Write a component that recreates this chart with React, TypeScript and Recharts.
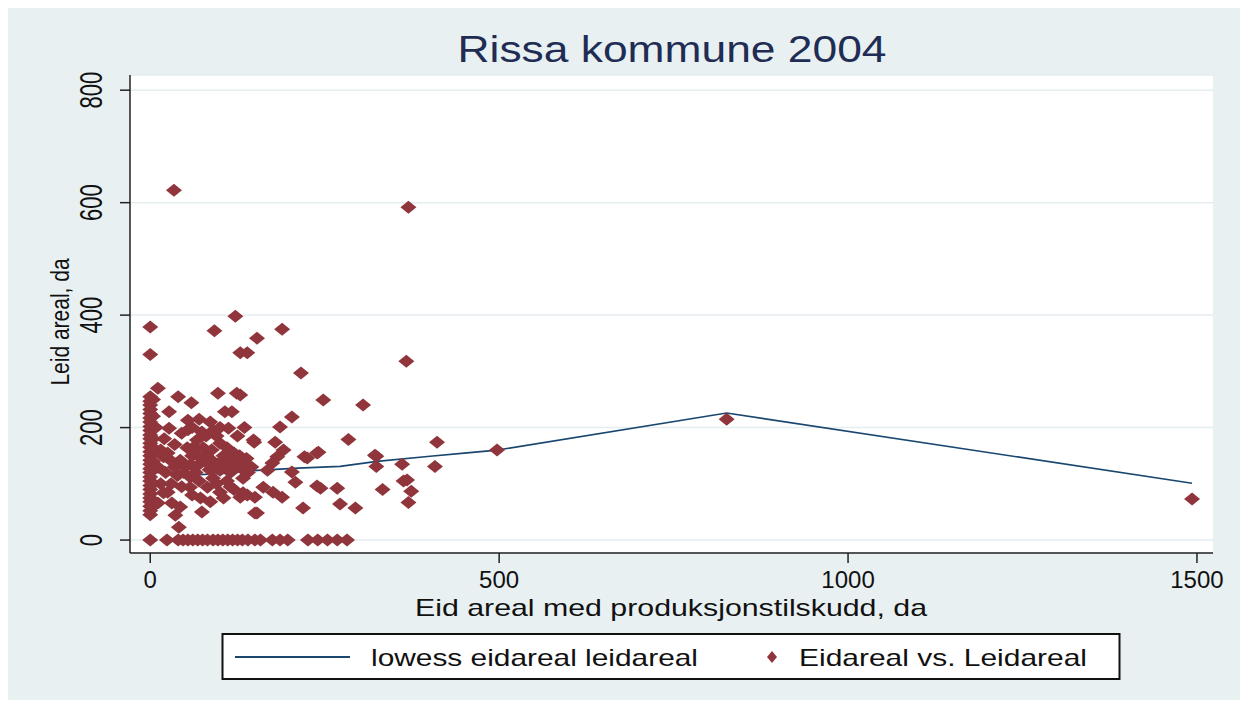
import React from "react";
import { CartesianGrid, Scatter, ScatterChart, XAxis, YAxis } from "recharts";

// farms with no owned land (eid areal = 0), leid areal values stacked on the y axis
const zeroEidLeid = [
  0, 45, 52, 60, 68, 75, 82, 90, 97, 105, 112, 120, 127, 135, 142, 150, 157, 165, 172, 180, 187, 195, 202,
  210, 217, 225, 232, 240, 247, 255, 330, 379,
];

// farms with no rented land (leid areal = 0), eid areal values along the x axis
const zeroLeidEid = [
  24, 40, 47, 54, 61, 68, 75, 82, 90, 97, 104, 111, 118, 125, 132, 140, 150, 158, 175, 186, 197, 226, 240, 254,
  268, 282,
];

// everything else, [eid areal, leid areal]
const otherPoints: [number, number][] = [
  [34, 622], [370, 592], [122, 398], [92, 372], [189, 375], [153, 359], [129, 333], [139, 333], [216, 297],
  [367, 318], [248, 249], [305, 240], [411, 174], [497, 160], [284, 179], [324, 149], [324, 131], [361, 135],
  [333, 90], [363, 105], [368, 107], [374, 87], [370, 67], [294, 57], [408, 131], [826, 215], [1493, 73],
  [129, 258], [203, 219], [186, 201], [149, 174], [179, 174], [191, 160], [239, 155], [225, 146], [182, 148],
  [175, 137], [133, 140], [133, 125], [133, 110], [168, 124], [203, 121], [208, 103], [162, 94], [176, 85],
  [189, 76], [244, 92], [239, 96], [268, 92], [129, 76], [150, 76], [153, 48], [219, 57], [272, 64],
  [241, 156], [221, 148], [322, 151],
  [11, 270], [40, 255], [59, 244], [27, 228], [27, 199], [97, 261], [124, 261], [107, 228], [117, 228],
  [54, 213], [54, 196], [86, 210], [74, 192], [67, 178], [53, 164], [43, 142], [29, 142], [76, 164],
  [100, 172], [112, 199], [110, 164], [113, 142], [124, 130], [148, 178], [100, 124], [90, 110], [82, 94],
  [57, 112], [57, 94], [39, 115], [72, 75], [86, 68], [31, 66], [43, 59], [74, 50], [36, 44], [41, 23],
  [139, 80], [133, 84], [150, 48], [19, 148], [11, 130], [19, 84], [11, 66],
  [20, 180], [35, 170], [45, 190], [60, 150], [70, 135], [80, 150], [90, 140], [95, 185], [105, 150],
  [120, 155], [65, 120], [85, 125], [110, 105], [120, 90], [100, 85], [30, 100], [45, 95], [22, 120],
  [50, 130], [140, 120], [115, 120], [95, 100], [70, 105],
  [15, 160], [25, 155], [35, 130], [48, 120], [58, 135], [62, 165], [68, 150], [78, 140], [88, 160],
  [92, 130], [102, 140], [108, 130], [118, 140], [128, 150], [138, 145], [145, 130], [60, 200], [80, 185],
  [90, 195], [70, 215], [100, 200], [125, 185], [135, 200], [15, 100], [25, 85], [60, 80], [105, 75], [115, 95],
  [4, 60], [4, 100], [4, 140], [4, 180], [4, 220], [4, 250], [8, 65], [8, 130], [8, 160], [8, 200],
];

// lowess smooth
const lowessEid = [0, 29, 62, 100, 153, 212, 272, 325, 401, 454, 497, 826, 1493];
const lowessLeid = [121, 119, 116, 118, 124, 128, 131, 140, 149, 155, 160, 226, 101];

const xTicks = [0, 500, 1000, 1500];
const yTicks = [0, 200, 400, 600, 800];

const scatterData = [
  ...zeroEidLeid.map((y) => ({ x: 0, y })),
  ...zeroLeidEid.map((x) => ({ x, y: 0 })),
  ...otherPoints.map(([x, y]) => ({ x, y })),
];
const lowessData = lowessEid.map((x, i) => ({ x, y: lowessLeid[i] }));

const MAROON = "#90353b";
const NAVY = "#1a476f";
const FONT = "'Liberation Sans', Arial, sans-serif";

function Diamond(props: any) {
  const { cx, cy } = props;
  if (cx == null || cy == null) return <g />;
  return <polygon points={`${cx},${cy - 6.5} ${cx + 8},${cy} ${cx},${cy + 6.5} ${cx - 8},${cy}`} fill={MAROON} />;
}

function XTick(props: any) {
  const { x, y, payload } = props;
  return (
    <text x={x} y={y + 25} textAnchor="middle" fontSize={24} fill="#111" fontFamily={FONT}>
      {payload.value}
    </text>
  );
}

function YTick(props: any) {
  const { x, y, payload } = props;
  return (
    <text
      transform={`translate(${x - 28},${y}) rotate(-90) scale(1,1.4)`}
      textAnchor="middle"
      dominantBaseline="central"
      fontSize={22}
      fill="#111"
      fontFamily={FONT}
    >
      {payload.value}
    </text>
  );
}

export default function App() {
  return (
    <div style={{ marginTop: -3, width: 1232, height: 695, background: "#e8f0f2", position: "relative" }}>
      <ScatterChart width={1232} height={695} margin={{ top: 70, right: 27, bottom: 107, left: 62 }}>
        <CartesianGrid vertical={false} fill="#ffffff" stroke="#e4edf0" strokeWidth={1.5} />
        <XAxis
          type="number"
          dataKey="x"
          domain={[-29, 1523]}
          ticks={xTicks}
          allowDataOverflow
          height={40}
          tickSize={10}
          tickMargin={0}
          tick={<XTick />}
          axisLine={{ stroke: "#222", strokeWidth: 1.5 }}
          tickLine={{ stroke: "#222", strokeWidth: 1.5 }}
        />
        <YAxis
          type="number"
          dataKey="y"
          domain={[-23, 827]}
          ticks={yTicks}
          allowDataOverflow
          width={60}
          tickSize={10}
          tickMargin={0}
          tick={<YTick />}
          axisLine={{ stroke: "#222", strokeWidth: 1.5 }}
          tickLine={{ stroke: "#222", strokeWidth: 1.5 }}
        />
        <Scatter
          data={lowessData}
          line={{ stroke: NAVY, strokeWidth: 1.6 }}
          lineType="joint"
          shape={() => <g />}
          isAnimationActive={false}
        />
        <Scatter data={scatterData} shape={<Diamond />} isAnimationActive={false} />
      </ScatterChart>

      <svg
        width={1232}
        height={695}
        style={{ position: "absolute", left: 0, top: 0, pointerEvents: "none" }}
        fontFamily={FONT}
      >
        <text x={664} y={57} textAnchor="middle" fontSize={37} fill="#1f2d55" textLength={429} lengthAdjust="spacingAndGlyphs">
          Rissa kommune 2004
        </text>
        <text x={663} y={611} textAnchor="middle" fontSize={24} fill="#111" textLength={512} lengthAdjust="spacingAndGlyphs">
          Eid areal med produksjonstilskudd, da
        </text>
        <text
          transform="translate(52,317) rotate(-90) scale(1,1.2)"
          textAnchor="middle"
          dominantBaseline="central"
          fontSize={21}
          fill="#111"
        >
          Leid areal, da
        </text>

        <rect x={214.5} y={629} width={897} height={45} fill="#ffffff" stroke="#111" strokeWidth={2} />
        <line x1={227} y1={652} x2={342} y2={652} stroke={NAVY} strokeWidth={2} />
        <text x={363} y={661} fontSize={24} fill="#111" textLength={327} lengthAdjust="spacingAndGlyphs">
          lowess eidareal leidareal
        </text>
        <polygon points="764,646 769,652 764,658 759,652" fill={MAROON} />
        <text x={791} y={661} fontSize={24} fill="#111" textLength={288} lengthAdjust="spacingAndGlyphs">
          Eidareal vs. Leidareal
        </text>
      </svg>
    </div>
  );
}
